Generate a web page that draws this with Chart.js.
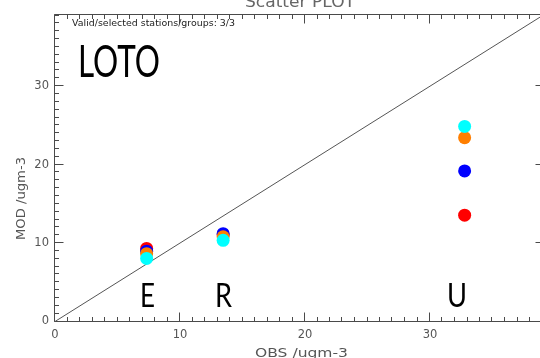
<!DOCTYPE html>
<html>
<head>
<meta charset="utf-8">
<script src="https://cdn.jsdelivr.net/npm/chart.js@4"></script>
<style>
  html, body { margin: 0; padding: 0; overflow: hidden; background: #fff; }
  #wrap { width: 552px; height: 358px; }
</style>
</head>
<body>
<div id="wrap"><canvas id="c" width="552" height="358"></canvas></div>
<script>
// Station groups and observed concentrations (ugm-3)
const groups = ['E', 'R', 'U'];
const obs = [7.33, 13.45, 32.77];

// Modelled concentrations for each model run, one value per group
const modRed = [9.31, 11.05, 13.55];
const modBlue = [8.97, 11.2, 19.19];
const modOrange = [8.65, 10.8, 23.44];
const modCyan = [8.04, 10.35, 24.87];

// Axis settings
const axisMax = 39.2;
const majorStep = 10;
const minorStep = 1;
const oneToOne = [0, axisMax];

const pairs = (xs, ys) => xs.map((x, i) => ({ x: x, y: ys[i] }));

function fitText(ctx, txt, left, baseline, font, width) {
  ctx.save();
  ctx.font = font;
  const w = ctx.measureText(txt).width;
  ctx.translate(left, baseline);
  ctx.scale(width / w, 1);
  ctx.textAlign = 'left';
  ctx.textBaseline = 'alphabetic';
  ctx.fillText(txt, 0, 0);
  ctx.restore();
}

// Frame with inward IDL-style ticks
const framePlugin = {
  id: 'frame',
  beforeDatasetsDraw(chart) {
    const { ctx, chartArea: a, scales: { x, y } } = chart;
    ctx.save();
    ctx.strokeStyle = '#4a4a4a';
    ctx.lineWidth = 1;
    const L = Math.round(a.left) - 0.5, R = Math.round(a.right) - 0.5;
    const T = Math.round(a.top) + 0.5, B = Math.round(a.bottom) - 0.5;
    ctx.beginPath();
    ctx.moveTo(L, T); ctx.lineTo(R, T); ctx.lineTo(R, B); ctx.lineTo(L, B); ctx.closePath();
    for (let v = 0; v <= axisMax + 1e-9; v += minorStep) {
      const len = (Math.round(v) % majorStep === 0) ? 9 : 4.5;
      const px = Math.round(x.getPixelForValue(v)) - 0.5;
      ctx.moveTo(px, B); ctx.lineTo(px, B - len);
      ctx.moveTo(px, T); ctx.lineTo(px, T + len);
      const py = Math.round(y.getPixelForValue(v)) - 0.5;
      ctx.moveTo(L, py); ctx.lineTo(L + len, py);
      ctx.moveTo(R, py); ctx.lineTo(R - len, py);
    }
    ctx.stroke();
    ctx.restore();
  },
  afterDraw(chart) {
    const { ctx } = chart;
    ctx.save();
    // plot title, mostly above the canvas edge
    ctx.fillStyle = '#666';
    fitText(ctx, 'Scatter PLOT', 245, 7, '16px "DejaVu Sans"', 110);
    // axis titles
    ctx.fillStyle = '#555';
    fitText(ctx, 'OBS /ugm-3', 255, 357, '12.5px "DejaVu Sans"', 93);
    ctx.save();
    ctx.translate(25, 240);
    ctx.rotate(-Math.PI / 2);
    fitText(ctx, 'MOD /ugm-3', 0, 0, '12.5px "DejaVu Sans"', 83);
    ctx.restore();
    // station count note
    ctx.fillStyle = '#222';
    fitText(ctx, 'Valid/selected stations/groups: 3/3', 72, 25.5, '8.5px "DejaVu Sans"', 163);
    // big annotations
    ctx.fillStyle = '#000';
    fitText(ctx, 'LOTO', 78, 77, '44.7px Lato', 82);
    const groupLeft = [140, 215, 447];
    const groupWidth = [15, 17, 20];
    groups.forEach((g, i) => fitText(ctx, g, groupLeft[i], 307, '32px Lato', groupWidth[i]));
    ctx.restore();
  }
};

const dot = (color, data, order) => ({
  type: 'scatter',
  data: data,
  backgroundColor: color,
  borderWidth: 0,
  pointRadius: 6.5,
  pointHoverRadius: 6.5,
  order: order
});

new Chart(document.getElementById('c'), {
  type: 'scatter',
  data: {
    datasets: [
      {
        type: 'line',
        data: pairs(oneToOne, oneToOne),
        borderColor: '#555',
        borderWidth: 1,
        pointRadius: 0,
        fill: false,
        order: 5
      },
      dot('#ff0000', pairs(obs, modRed), 4),
      dot('#0000ff', pairs(obs, modBlue), 3),
      dot('#ff7f00', pairs(obs, modOrange), 2),
      dot('#00ffff', pairs(obs, modCyan), 1)
    ]
  },
  options: {
    responsive: false,
    animation: false,
    devicePixelRatio: 1,
    layout: { padding: { top: 14, right: 7, left: 0, bottom: 0 } },
    plugins: { legend: { display: false }, tooltip: { enabled: false }, title: { display: false } },
    scales: {
      x: {
        type: 'linear',
        min: 0,
        max: axisMax,
        grid: { display: false, drawTicks: false },
        border: { display: false },
        ticks: {
          stepSize: majorStep,
          includeBounds: false,
          padding: 7,
          maxRotation: 0,
          color: '#555',
          font: { family: 'DejaVu Sans', size: 11.5 }
        },
        afterFit(s) { s.height = 36.5; }
      },
      y: {
        type: 'linear',
        min: 0,
        max: axisMax,
        grid: { display: false, drawTicks: false },
        border: { display: false },
        ticks: {
          stepSize: majorStep,
          includeBounds: false,
          padding: 6,
          color: '#555',
          font: { family: 'DejaVu Sans', size: 11.5 }
        },
        afterFit(s) { s.width = 55; }
      }
    }
  },
  plugins: [framePlugin]
});
</script>
</body>
</html>
